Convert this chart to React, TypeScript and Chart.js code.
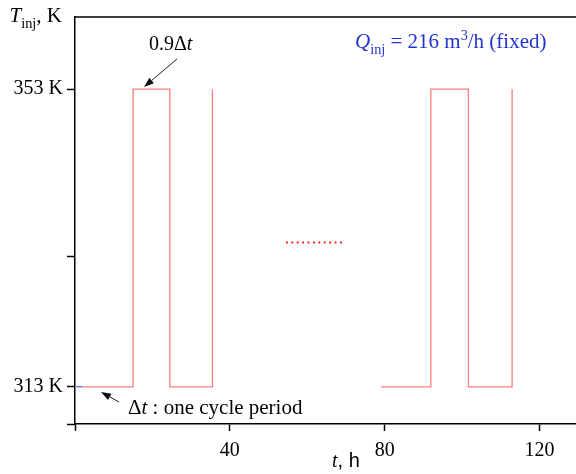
import React, { useEffect, useRef } from "react";
import { Chart, registerables } from "chart.js";

Chart.register(...registerables);

// ---- data ----
const blueT = [0.3, 2];
const blueK = [313, 313];
const cycle1T = [2, 15, 15, 24.5, 24.5, 35.5, 35.5];
const cycle1K = [313, 313, 353, 353, 313, 313, 353];
const cycle2T = [79, 91.9, 91.9, 101.6, 101.6, 112.9, 112.9];
const cycle2K = [313, 313, 353, 353, 313, 313, 353];
const dotsT = [54.5, 69.2];
const dotsK = [332.4, 332.4];
const xTickValues = [0, 40, 80, 120];
const xTickLabels = ["", "40", "80", "120"];
const yTickValues = [308, 330.5, 353, 313];
const yTickLabelMap: Record<string, string> = { "313": "313 K", "353": "353 K" };

const SERIF = "'Liberation Serif', 'Times New Roman', serif";
const SANS = "'Liberation Sans', Arial, sans-serif";

type Seg = { t: string; it?: boolean; sub?: boolean; sup?: boolean; sans?: boolean };

function drawRich(ctx: CanvasRenderingContext2D, segs: Seg[], x: number, y: number, size: number, color: string) {
  ctx.save();
  ctx.fillStyle = color;
  ctx.textBaseline = "alphabetic";
  ctx.textAlign = "left";
  let cx = x;
  for (const s of segs) {
    const sz = s.sub || s.sup ? size * 0.68 : size;
    ctx.font = `${s.it ? "italic " : ""}${sz}px ${s.sans ? SANS : SERIF}`;
    const dy = s.sub ? size * 0.3 : s.sup ? -size * 0.4 : 0;
    ctx.fillText(s.t, cx, y + dy);
    cx += ctx.measureText(s.t).width;
  }
  ctx.restore();
}

function arrow(ctx: CanvasRenderingContext2D, x1: number, y1: number, x2: number, y2: number) {
  ctx.save();
  ctx.strokeStyle = "#222";
  ctx.fillStyle = "#111";
  ctx.lineWidth = 1;
  const ang = Math.atan2(y2 - y1, x2 - x1);
  const hl = 10, hw = 3.5;
  const bx = x2 - hl * Math.cos(ang), by = y2 - hl * Math.sin(ang);
  ctx.beginPath();
  ctx.moveTo(x1, y1);
  ctx.lineTo(bx, by);
  ctx.stroke();
  ctx.beginPath();
  ctx.moveTo(x2, y2);
  ctx.lineTo(bx + hw * Math.sin(ang), by - hw * Math.cos(ang));
  ctx.lineTo(bx - hw * Math.sin(ang), by + hw * Math.cos(ang));
  ctx.closePath();
  ctx.fill();
  ctx.restore();
}

const annotPlugin = {
  id: "annot",
  afterDraw(chart: any) {
    const ctx = chart.ctx as CanvasRenderingContext2D;
    const a = chart.chartArea;
    // top frame
    ctx.save();
    ctx.strokeStyle = "#000";
    ctx.lineWidth = 1.5;
    ctx.beginPath();
    ctx.moveTo(a.left, a.top);
    ctx.lineTo(chart.width + 2, a.top);
    ctx.stroke();
    ctx.restore();

    drawRich(ctx, [{ t: "T", it: true }, { t: "inj", sub: true }, { t: ", K" }], 9.5, 22, 21, "#000");
    drawRich(ctx, [{ t: "0.9Δ" }, { t: "t", it: true }], 149, 50, 20, "#000");
    drawRich(ctx, [{ t: "Δ" }, { t: "t", it: true }, { t: " : one cycle period" }], 128, 414, 21, "#000");
    drawRich(
      ctx,
      [{ t: "Q", it: true }, { t: "inj", sub: true }, { t: " = 216 m" }, { t: "3", sup: true }, { t: "/h (fixed)" }],
      355,
      48,
      21,
      "#2233cc"
    );
    drawRich(ctx, [{ t: "t", it: true }, { t: ", h", sans: true }], 332, 467, 20, "#000");

    arrow(ctx, 177, 59, 144, 87);
    arrow(ctx, 119, 402, 101, 392);
  },
};

export default function App() {
  const ref = useRef<HTMLCanvasElement>(null);
  useEffect(() => {
    document.body.style.margin = "0";
    const toXY = (xs: number[], ys: number[]) => xs.map((x, i) => ({ x, y: ys[i] }));
    const red = "rgb(255,125,125)";
    const chart = new Chart(ref.current!, {
      type: "line",
      data: {
        datasets: [
          { data: toXY(blueT, blueK), borderColor: "#5a6af0", borderWidth: 1.3, pointRadius: 0 },
          { data: toXY(cycle1T, cycle1K), borderColor: red, borderWidth: 1.3, pointRadius: 0 },
          { data: toXY(cycle2T, cycle2K), borderColor: red, borderWidth: 1.3, pointRadius: 0 },
          {
            data: toXY(dotsT, dotsK),
            borderColor: "#ff1010",
            borderWidth: 2,
            borderDash: [1.8, 3.6],
            pointRadius: 0,
          },
        ],
      } as any,
      options: {
        animation: false,
        responsive: false,
        devicePixelRatio: 1,
        layout: { padding: { left: 0, right: 0, top: 17, bottom: 0 } },
        plugins: { legend: { display: false }, tooltip: { enabled: false } },
        elements: { line: { tension: 0 } },
        scales: {
          x: {
            type: "linear",
            min: 0,
            max: 129.4,
            afterFit: (s: any) => {
              s.height = 50;
            },
            afterBuildTicks: (s: any) => {
              s.ticks = xTickValues.map((v) => ({ value: v }));
            },
            ticks: {
              autoSkip: false,
              maxRotation: 0,
              padding: 8,
              color: "#000",
              font: { family: SERIF, size: 20 },
              callback: (v: any) => {
                const i = xTickValues.indexOf(Number(v));
                return i >= 0 ? xTickLabels[i] : "";
              },
            },
            grid: { drawOnChartArea: false, tickLength: 7, color: "#000", tickWidth: 1.5 },
            border: { color: "#000", width: 1.5 },
          },
          y: {
            type: "linear",
            min: 308,
            max: 362.7,
            afterFit: (s: any) => {
              s.width = 75;
            },
            afterBuildTicks: (s: any) => {
              s.ticks = yTickValues.map((v) => ({ value: v }));
            },
            ticks: {
              autoSkip: false,
              padding: 4,
              color: "#000",
              font: { family: SERIF, size: 20 },
              callback: (v: any) => yTickLabelMap[String(v)] ?? "",
            },
            grid: { drawOnChartArea: false, tickLength: 8, color: "#000", tickWidth: 1.5 },
            border: { color: "#000", width: 1.5 },
          },
        },
      } as any,
      plugins: [annotPlugin],
    });
    return () => chart.destroy();
  }, []);
  return (
    <div style={{ position: "fixed", left: 0, top: 0, width: 576, height: 474, background: "#fff" }}>
      <canvas ref={ref} width={576} height={474} />
    </div>
  );
}
